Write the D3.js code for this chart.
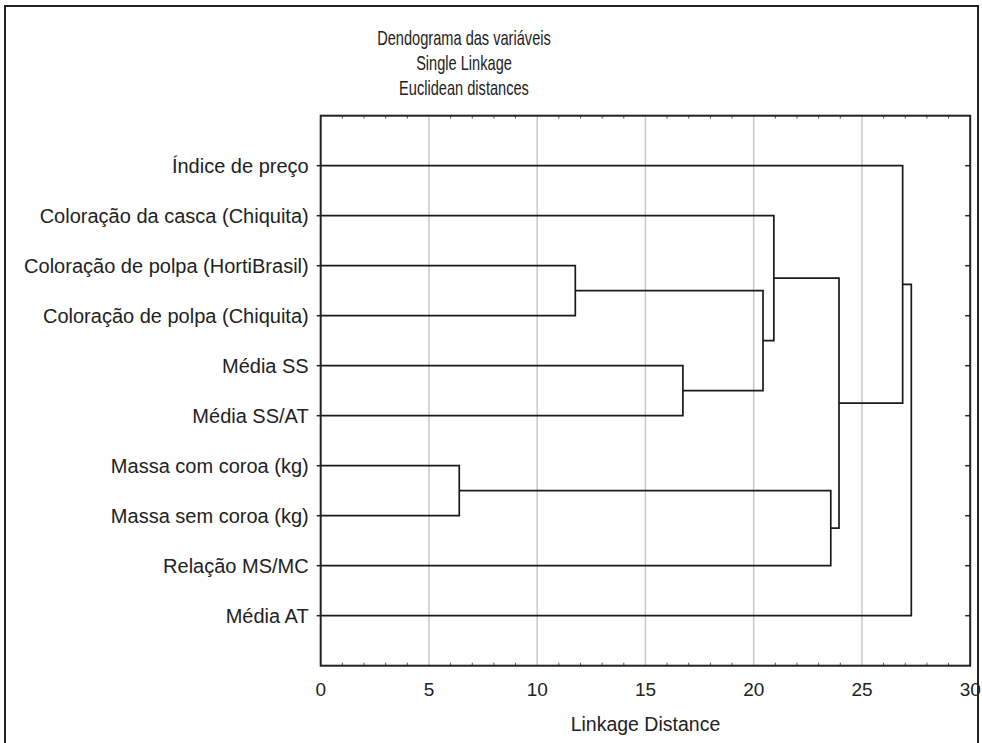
<!DOCTYPE html>
<html>
<head>
<meta charset="utf-8">
<script src="https://cdn.jsdelivr.net/npm/d3@7"></script>
<style>
  body { margin: 0; background: #fff; }
  text { font-family: Arial, "Liberation Sans", sans-serif; fill: #222; }
</style>
</head>
<body>
<svg id="chart"></svg>
<script>
// leaves, top to bottom
const leaves = [
  'Índice de preço',
  'Coloração da casca (Chiquita)',
  'Coloração de polpa (HortiBrasil)',
  'Coloração de polpa (Chiquita)',
  'Média SS',
  'Média SS/AT',
  'Massa com coroa (kg)',
  'Massa sem coroa (kg)',
  'Relação MS/MC',
  'Média AT',
]

// merges: [child a, child b, linkage distance]; new cluster ids start at leaves.length
const mergeA = [6, 2, 4, 11, 1, 10, 14, 0, 17]
const mergeB = [7, 3, 5, 12, 13, 8, 15, 16, 9]
const mergeDist = [6.4, 11.76, 16.73, 20.43, 20.93, 23.56, 23.94, 26.88, 27.28]

const titleLines = ['Dendograma das variáveis', 'Single Linkage', 'Euclidean distances']
const xTicks = [0, 5, 10, 15, 20, 25, 30]
const xLabel = 'Linkage Distance'

const width = 982
const height = 743
const plot = { left: 320.7, right: 970.2, top: 115.7, bottom: 665.7 }

const svg = d3.select('#chart')
  .attr('width', width)
  .attr('height', height)

// outer border
svg.append('rect')
  .attr('x', 5).attr('y', 6)
  .attr('width', 973).attr('height', 760)
  .attr('fill', 'none')
  .attr('stroke', '#222')
  .attr('stroke-width', 2)

const x = d3.scaleLinear().domain([0, 30]).range([plot.left, plot.right])
const y = d3.scalePoint().domain(leaves).range([plot.top, plot.bottom]).padding(1)

// title (condensed look of the original)
svg.append('g').selectAll('text')
  .data(titleLines)
  .enter().append('text')
    .attr('transform', (d, i) => `translate(464,${45 + i * 25}) scale(0.73,1)`)
    .attr('text-anchor', 'middle')
    .attr('font-size', 20)
    .text((d) => d)

// grid
svg.append('g').selectAll('line')
  .data(xTicks.slice(1, -1))
  .enter().append('line')
    .attr('x1', (d) => x(d)).attr('x2', (d) => x(d))
    .attr('y1', plot.top).attr('y2', plot.bottom)
    .attr('stroke', '#c8c8c8')
    .attr('stroke-width', 1.5)

// minor ticks top and bottom (inward)
const minor = d3.range(1, 30).filter((d) => d % 5 !== 0)
const tickG = svg.append('g').attr('stroke', '#555').attr('stroke-width', 1)
tickG.selectAll('.tb')
  .data(minor)
  .enter().append('line')
    .attr('x1', (d) => x(d)).attr('x2', (d) => x(d))
    .attr('y1', plot.bottom).attr('y2', plot.bottom - 3)
tickG.selectAll('.tt')
  .data(minor)
  .enter().append('line')
    .attr('x1', (d) => x(d)).attr('x2', (d) => x(d))
    .attr('y1', plot.top).attr('y2', plot.top + 3)

// row ticks left (outward) and right (inward)
const rowTicks = svg.append('g').attr('stroke', '#222').attr('stroke-width', 1.5)
rowTicks.selectAll('.l')
  .data(leaves)
  .enter().append('line')
    .attr('x1', plot.left - 4).attr('x2', plot.left)
    .attr('y1', (d) => y(d)).attr('y2', (d) => y(d))
rowTicks.selectAll('.r')
  .data(leaves)
  .enter().append('line')
    .attr('x1', plot.right - 5).attr('x2', plot.right)
    .attr('y1', (d) => y(d)).attr('y2', (d) => y(d))

// leaf labels
svg.append('g').selectAll('text')
  .data(leaves)
  .enter().append('text')
    .attr('x', plot.left - 12)
    .attr('y', (d) => y(d))
    .attr('dy', '0.35em')
    .attr('text-anchor', 'end')
    .attr('font-size', 20)
    .text((d) => d)

// x tick labels
svg.append('g').selectAll('text')
  .data(xTicks)
  .enter().append('text')
    .attr('x', (d) => x(d))
    .attr('y', 696)
    .attr('text-anchor', 'middle')
    .attr('font-size', 19)
    .text((d) => d)

svg.append('text')
  .attr('x', x(15))
  .attr('y', 731)
  .attr('text-anchor', 'middle')
  .attr('font-size', 19.5)
  .text(xLabel)

// build node positions
const nodes = leaves.map((d) => ({ x: x(0), y: y(d) }))
const links = []
mergeDist.forEach((dist, i) => {
  const a = nodes[mergeA[i]]
  const b = nodes[mergeB[i]]
  const nx = x(dist)
  links.push(`M${a.x},${a.y}H${nx}V${b.y}H${b.x}`)
  nodes.push({ x: nx, y: (a.y + b.y) / 2 })
})

svg.append('g').selectAll('path')
  .data(links)
  .enter().append('path')
    .attr('d', (d) => d)
    .attr('fill', 'none')
    .attr('stroke', '#1a1a1a')
    .attr('stroke-width', 1.7)

// frame
svg.append('rect')
  .attr('x', plot.left).attr('y', plot.top)
  .attr('width', plot.right - plot.left)
  .attr('height', plot.bottom - plot.top)
  .attr('fill', 'none')
  .attr('stroke', '#222')
  .attr('stroke-width', 2)
</script>
</body>
</html>
